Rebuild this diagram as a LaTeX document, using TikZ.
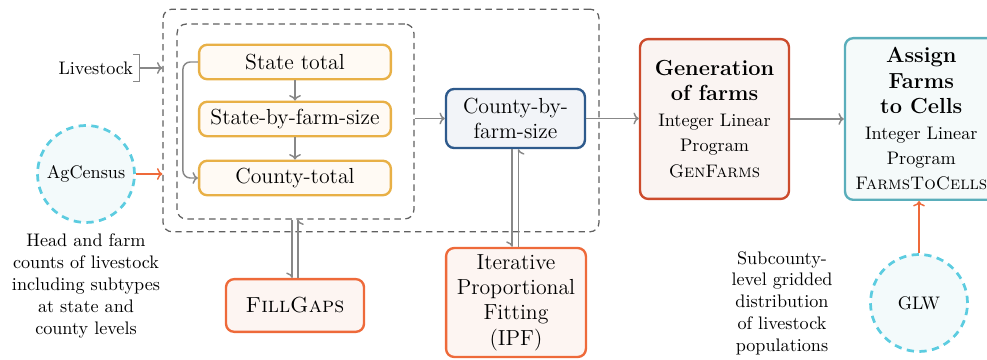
\documentclass[tikz,border=0pt]{standalone}
\usetikzlibrary{arrows.meta}
\definecolor{yelB}{HTML}{E8B046}
\definecolor{yelF}{HTML}{FFFAF4}
\definecolor{bluB}{HTML}{2E5A8C}
\definecolor{bluF}{HTML}{F2F4F8}
\definecolor{redB}{HTML}{CC4B2C}
\definecolor{redF}{HTML}{FAF4F2}
\definecolor{tealB}{HTML}{5AAEBB}
\definecolor{tealF}{HTML}{F5FAFA}
\definecolor{orB}{HTML}{EE6A3A}
\definecolor{orF}{HTML}{FDF5F2}
\definecolor{cyB}{HTML}{5CCCE0}
\definecolor{cyF}{HTML}{F3FAFB}
\definecolor{conn}{HTML}{888888}
\definecolor{dashc}{HTML}{606060}
\begin{document}
\begin{tikzpicture}[x=0.5506pt,y=-0.5506pt,
  every node/.style={inner sep=0pt},
  box/.style={draw, rounded corners=4.5pt, line width=1.3pt, align=center},
  yelbox/.style={box, draw=yelB, fill=yelF, font=\large, minimum width=105.6pt, minimum height=19pt},
  dbox/.style={draw=dashc, dashed, dash pattern=on 3.5pt off 2.5pt, line width=0.7pt, rounded corners=5pt},
  circ/.style={circle, draw=cyB, fill=cyF, dashed, dash pattern=on 4pt off 3pt, line width=1.5pt, minimum size=53.4pt},
  tip/.style={-{Computer Modern Rightarrow[length=3pt,width=6.5pt]}},
  conn/.style={tip, draw=conn, line width=0.8pt},
  oconn/.style={tip, draw=orB, line width=0.8pt},
  harp/.style={-{Computer Modern Rightarrow[length=3pt,width=6.5pt,harpoon,swap]}, draw=conn, line width=0.8pt}
]
\useasboundingbox (0,0) rectangle (987,360);

% dashed containers
\node[dbox, minimum width=240pt, minimum height=122.6pt] (outer) at (381,120.5) {};
\node[dbox, minimum width=130.4pt, minimum height=107.3pt] (inner) at (295.5,121.5) {};

% yellow boxes
\node[yelbox] (st) at (295,62) {State total};
\node[yelbox] (sb) at (295,119) {State-by-farm-size};
\node[yelbox] (ct) at (295,178) {County-total};

% county by farm size
\node[box, draw=bluB, fill=bluF, font=\large, minimum width=76.5pt, minimum height=32.5pt] (cb) at (515.5,118.5) {County-by-\\farm-size};

% generation
\node[box, draw=redB, fill=redF, font=\large, minimum width=82pt, minimum height=88pt] (gen) at (714.5,119)
  {\textbf{Generation}\\\textbf{of farms}\\{\normalsize Integer Linear}\\{\normalsize Program}\\{\normalsize\textsc{GenFarms}}};

% assign
\node[box, draw=tealB, fill=tealF, font=\large, minimum width=84pt, minimum height=89pt] (asg) at (921.3,119)
  {\textbf{Assign}\\\textbf{Farms}\\\textbf{to Cells}\\{\normalsize Integer Linear}\\{\normalsize Program}\\{\normalsize\textsc{FarmsToCells}}};

% fillgaps and ipf
\node[box, draw=orB, fill=orF, font=\large, minimum width=76pt, minimum height=29pt] (fg) at (295,305.5) {\textsc{FillGaps}};
\node[box, draw=orB, fill=orF, font=\large, minimum width=77pt, minimum height=60pt] (ipf) at (516,302.5) {Iterative\\Proportional\\Fitting\\(IPF)};

% circles
\node[circ] (ag) at (86,174) {AgCensus};
\node[circ] (glw) at (919,303) {GLW};

% texts
\node[minimum height=14.3pt, inner xsep=3.3pt] (live) at (95.8,68) {Livestock};
\node[align=center] (cap1) at (86,286) {Head and farm\\counts of livestock\\including subtypes\\at state and\\county levels};
\node[align=center] (cap2) at (782,303) {Subcounty-\\level gridded\\distribution\\of livestock\\populations};

% livestock bracket
\draw[draw=conn, line width=0.7pt] ([xshift=-3.3pt]live.north east) -- (live.north east) -- (live.south east) -- ([xshift=-3.3pt]live.south east);

% connectors
\draw[conn] (live.east) -- (live.east -| outer.west);
\draw[oconn] (ag.east) -- (ag.east -| outer.west);
\draw[conn] (st.south) -- (sb.north);
\draw[conn] (sb.south) -- (ct.north);
\draw[conn, rounded corners=4pt] (st.west) -- ++(-15,0) |- (ct.west);
\draw[conn] (cb.west -| inner.east) -- (cb.west);
\draw[conn] (cb.east) -- (cb.east -| gen.west);
\draw[conn] (gen.east) -- (gen.east -| asg.west);
\draw[oconn] (glw.north) -- (glw.north |- asg.south);

% harpoons
\draw[harp] ([xshift=-1.9pt]inner.south) -- ([xshift=-1.9pt]inner.south |- fg.north);
\draw[harp] ([xshift=1.6pt]fg.north) -- ([xshift=1.6pt]fg.north |- inner.south);
\draw[harp] ([xshift=-1.9pt]cb.south) -- ([xshift=-1.9pt]cb.south |- ipf.north);
\draw[harp] ([xshift=1.4pt]ipf.north) -- ([xshift=1.4pt]ipf.north |- cb.south);
\end{tikzpicture}
\end{document}
